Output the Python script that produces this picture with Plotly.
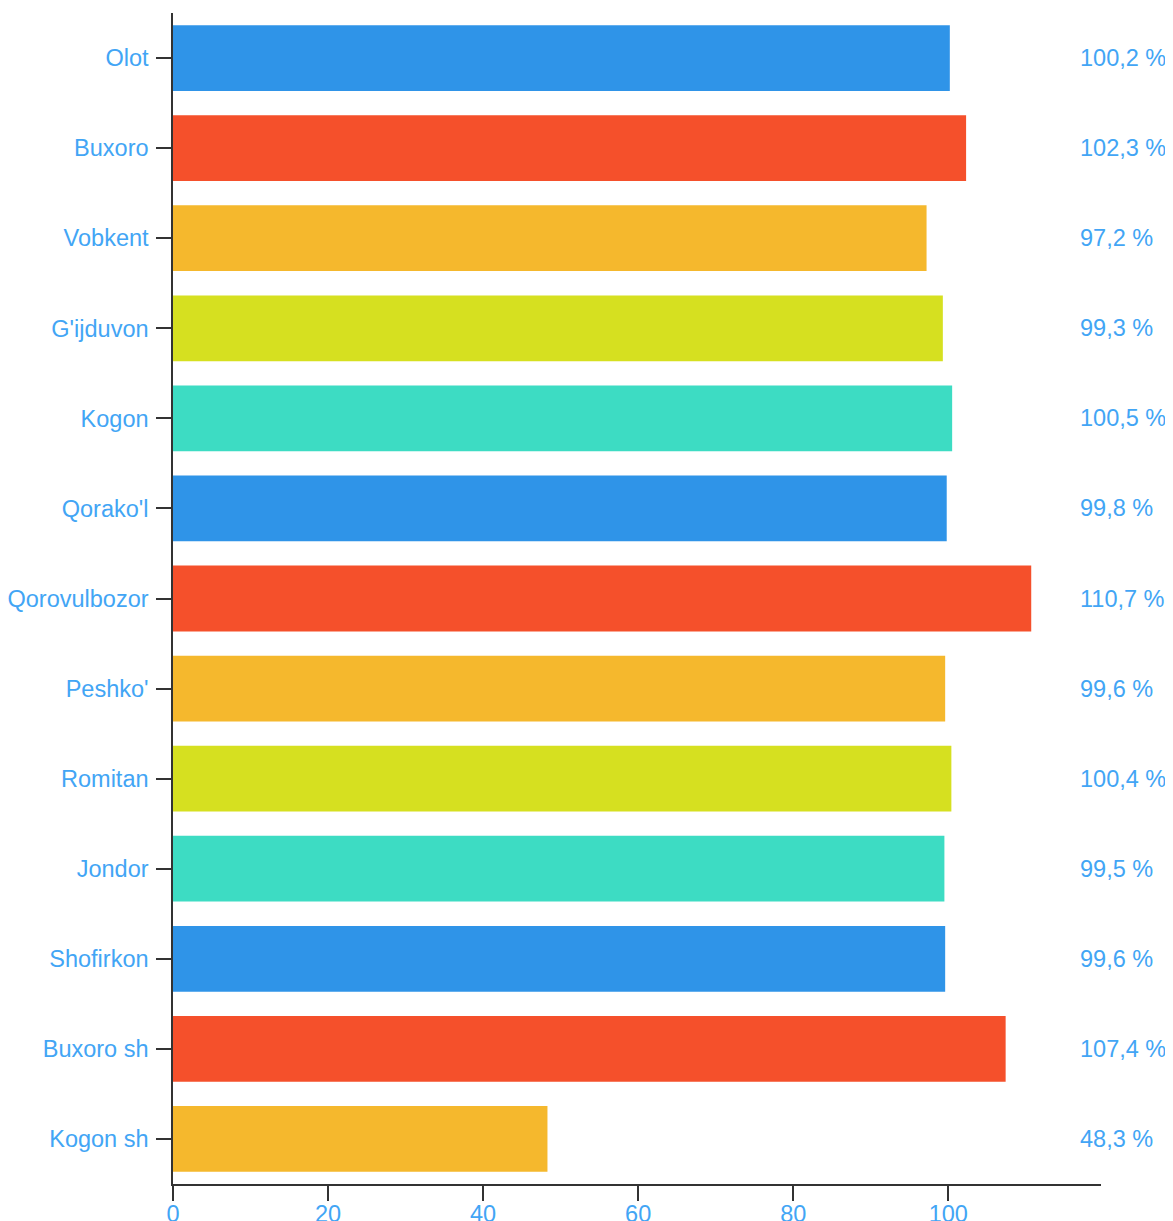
import plotly.graph_objects as go

# district names and percentages
districts = [
    "Olot", "Buxoro", "Vobkent", "G'ijduvon", "Kogon", "Qorako'l",
    "Qorovulbozor", "Peshko'", "Romitan", "Jondor", "Shofirkon",
    "Buxoro sh", "Kogon sh",
]
values = [100.2, 102.3, 97.2, 99.3, 100.5, 99.8, 110.7, 99.6, 100.4, 99.5, 99.6, 107.4, 48.3]
value_labels = ["100,2 %", "102,3 %", "97,2 %", "99,3 %", "100,5 %", "99,8 %",
                "110,7 %", "99,6 %", "100,4 %", "99,5 %", "99,6 %", "107,4 %", "48,3 %"]
x_ticks = [0, 20, 40, 60, 80, 100]

palette = ["#2F94E8", "#F5502B", "#F5B82D", "#D6E020", "#3DDCC3"]
bar_colors = [palette[i % len(palette)] for i in range(len(districts))]

label_color = "#42A5F5"
axis_color = "#333333"
ffam = "Liberation Sans, Arial, sans-serif"
fsize = 23.5

fig = go.Figure()
fig.add_trace(go.Bar(
    x=values,
    y=districts,
    orientation="h",
    marker=dict(color=bar_colors, line=dict(width=0)),
    hoverinfo="x+y",
))

# value labels out to the right
for name, lbl in zip(districts, value_labels):
    fig.add_annotation(
        x=0.975, xref="paper", xanchor="left",
        y=name, yref="y",
        text=lbl, showarrow=False,
        font=dict(color=label_color, size=fsize, family=ffam),
    )

# page body adds 8px margin, so the figure is a bit smaller than the window
fig.update_layout(
    width=1165, height=1213,
    margin=dict(l=165, r=72, t=5, b=37),
    plot_bgcolor="white", paper_bgcolor="white",
    bargap=0.27,
    showlegend=False,
    font=dict(family=ffam, size=fsize, color=label_color),
)
fig.update_xaxes(
    range=[0, 119.7], tickvals=x_ticks, automargin=False,
    showgrid=False, zeroline=False,
    showline=True, linecolor=axis_color, linewidth=1.5,
    ticks="outside", ticklen=15, tickwidth=1.5, tickcolor=axis_color,
    tickfont=dict(color=label_color, size=fsize),
    ticklabelstandoff=-7,
)
fig.update_yaxes(
    autorange="reversed", automargin=False,
    showgrid=False,
    showline=True, linecolor=axis_color, linewidth=1.5,
    ticks="outside", ticklen=15, tickwidth=1.5, tickcolor=axis_color,
    tickfont=dict(color=label_color, size=fsize),
    ticklabelstandoff=3,
)

fig.write_html("out.html")
